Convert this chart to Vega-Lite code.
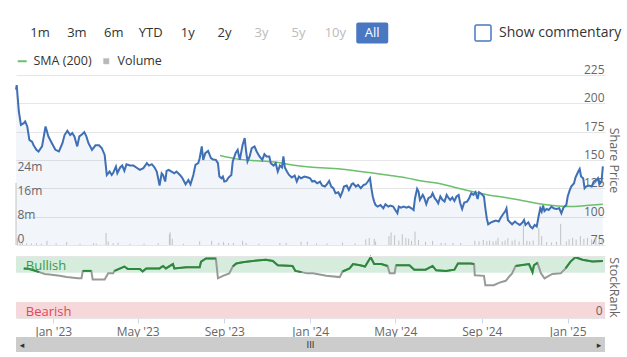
{
  "$schema": "https://vega.github.io/schema/vega-lite/v6.json",
  "padding": {"left": 12, "top": 0, "right": 0, "bottom": 0},
  "background": "white",
  "bounds": "flush",
  "spacing": 0,
  "config": {
    "font": "Open Sans",
    "view": {"stroke": null},
    "axis": {"labelColor": "#666666", "titleColor": "#666666", "labelFontSize": 12, "titleFontWeight": "normal", "titleFontSize": 12.5, "labelOverlap": false},
    "legend": {"labelFontSize": 12.5, "labelColor": "#333333", "padding": 0, "offset": 7, "labelOffset": 5}
  },
  "datasets": {
    "buttons": [
      {"b": "1m", "s": "on"}, {"b": "3m", "s": "on"}, {"b": "6m", "s": "on"}, {"b": "YTD", "s": "on"},
      {"b": "1y", "s": "on"}, {"b": "2y", "s": "on"}, {"b": "3y", "s": "off"}, {"b": "5y", "s": "off"},
      {"b": "10y", "s": "off"}, {"b": "All", "s": "sel"}
    ],
    "price": [
      {"d":"2022-11-09","p":212},{"d":"2022-11-10","p":216},{"d":"2022-11-13","p":193},{"d":"2022-11-16","p":181},
      {"d":"2022-11-20","p":182.5},{"d":"2022-11-22","p":184},{"d":"2022-11-25","p":179.6},{"d":"2022-11-28","p":167.8},
      {"d":"2022-12-02","p":166},{"d":"2022-12-04","p":163},{"d":"2022-12-08","p":159},{"d":"2022-12-11","p":157.5},
      {"d":"2022-12-16","p":162},{"d":"2022-12-21","p":179.6},{"d":"2022-12-25","p":170.8},{"d":"2022-12-30","p":164.8},
      {"d":"2023-01-04","p":159},{"d":"2023-01-09","p":157.5},{"d":"2023-01-14","p":164.8},{"d":"2023-01-17","p":172},
      {"d":"2023-01-21","p":175.7},{"d":"2023-01-25","p":172},{"d":"2023-01-28","p":173.7},{"d":"2023-01-31","p":170.8},
      {"d":"2023-02-04","p":162},{"d":"2023-02-07","p":170.8},{"d":"2023-02-11","p":172.8},{"d":"2023-02-14","p":174.6},
      {"d":"2023-02-17","p":170.8},{"d":"2023-02-20","p":164.8},{"d":"2023-02-25","p":159},{"d":"2023-03-02","p":163},
      {"d":"2023-03-07","p":163},{"d":"2023-03-11","p":160.4},{"d":"2023-03-15","p":154.5},{"d":"2023-03-18","p":136.8},
      {"d":"2023-03-22","p":139.8},{"d":"2023-03-25","p":136.8},{"d":"2023-03-27","p":138.5},{"d":"2023-03-31","p":144.3},
      {"d":"2023-04-02","p":138.3},{"d":"2023-04-06","p":143.4},{"d":"2023-04-09","p":145.1},{"d":"2023-04-12","p":140.4},
      {"d":"2023-04-15","p":146.3},{"d":"2023-04-20","p":145.1},{"d":"2023-04-25","p":145.1},{"d":"2023-04-29","p":143.4},
      {"d":"2023-05-04","p":141.3},{"d":"2023-05-09","p":142.8},{"d":"2023-05-14","p":147.2},{"d":"2023-05-17","p":145.1},
      {"d":"2023-05-21","p":146.3},{"d":"2023-05-25","p":143.4},{"d":"2023-05-28","p":139.8},{"d":"2023-05-30","p":133.9},
      {"d":"2023-06-01","p":127.5},{"d":"2023-06-04","p":138.3},{"d":"2023-06-06","p":136.8},{"d":"2023-06-09","p":131},
      {"d":"2023-06-11","p":140.4},{"d":"2023-06-14","p":141.3},{"d":"2023-06-18","p":139.8},{"d":"2023-06-22","p":138.3},
      {"d":"2023-06-25","p":139.8},{"d":"2023-06-30","p":136.8},{"d":"2023-07-03","p":134.5},{"d":"2023-07-08","p":128.6},
      {"d":"2023-07-12","p":132.4},{"d":"2023-07-15","p":128.6},{"d":"2023-07-19","p":136.8},{"d":"2023-07-22","p":145.7},
      {"d":"2023-07-26","p":147.2},{"d":"2023-07-28","p":151.6},{"d":"2023-07-31","p":162},{"d":"2023-08-02","p":150.1},
      {"d":"2023-08-05","p":156},{"d":"2023-08-09","p":158},{"d":"2023-08-13","p":151.6},{"d":"2023-08-16","p":150.5},
      {"d":"2023-08-20","p":150.1},{"d":"2023-08-23","p":147.2},{"d":"2023-08-25","p":135.4},{"d":"2023-08-28","p":133.9},
      {"d":"2023-08-30","p":135.4},{"d":"2023-09-01","p":131},{"d":"2023-09-04","p":131.5},{"d":"2023-09-07","p":134.5},
      {"d":"2023-09-11","p":136.8},{"d":"2023-09-13","p":148.7},{"d":"2023-09-17","p":156},{"d":"2023-09-20","p":159},
      {"d":"2023-09-23","p":150.1},{"d":"2023-09-27","p":163.3},{"d":"2023-09-30","p":169.3},{"d":"2023-10-02","p":157.5},
      {"d":"2023-10-04","p":148.7},{"d":"2023-10-07","p":153.1},{"d":"2023-10-10","p":160.4},{"d":"2023-10-14","p":161.9},
      {"d":"2023-10-17","p":157.5},{"d":"2023-10-21","p":153.1},{"d":"2023-10-25","p":150.1},{"d":"2023-10-28","p":155.1},
      {"d":"2023-10-31","p":153.1},{"d":"2023-11-04","p":153.1},{"d":"2023-11-06","p":147.2},{"d":"2023-11-10","p":145.1},
      {"d":"2023-11-13","p":147.2},{"d":"2023-11-16","p":139.8},{"d":"2023-11-19","p":145.1},{"d":"2023-11-22","p":143.4},
      {"d":"2023-11-24","p":153.1},{"d":"2023-11-26","p":143.4},{"d":"2023-11-29","p":139.8},{"d":"2023-12-02","p":136.8},
      {"d":"2023-12-06","p":134.5},{"d":"2023-12-10","p":136.3},{"d":"2023-12-13","p":131},{"d":"2023-12-16","p":135.4},
      {"d":"2023-12-19","p":133.9},{"d":"2023-12-24","p":135.4},{"d":"2023-12-29","p":134.5},{"d":"2024-01-01","p":133.9},
      {"d":"2024-01-04","p":131},{"d":"2024-01-07","p":131.5},{"d":"2024-01-11","p":129.5},{"d":"2024-01-15","p":131},
      {"d":"2024-01-18","p":127.5},{"d":"2024-01-22","p":126.6},{"d":"2024-01-25","p":128.6},{"d":"2024-01-28","p":131.5},
      {"d":"2024-01-31","p":126.6},{"d":"2024-02-03","p":125.1},{"d":"2024-02-06","p":120.7},{"d":"2024-02-10","p":121.6},
      {"d":"2024-02-13","p":117.8},{"d":"2024-02-16","p":122.2},{"d":"2024-02-18","p":126.6},{"d":"2024-02-22","p":127.5},
      {"d":"2024-02-25","p":123.6},{"d":"2024-02-29","p":128.6},{"d":"2024-03-02","p":129.5},{"d":"2024-03-06","p":126.6},
      {"d":"2024-03-09","p":128},{"d":"2024-03-13","p":125.1},{"d":"2024-03-17","p":128},{"d":"2024-03-20","p":128.6},
      {"d":"2024-03-23","p":131},{"d":"2024-03-26","p":133.9},{"d":"2024-03-28","p":125.1},{"d":"2024-03-30","p":117.8},
      {"d":"2024-04-01","p":113.3},{"d":"2024-04-03","p":110.3},{"d":"2024-04-06","p":108.9},{"d":"2024-04-10","p":110.3},
      {"d":"2024-04-14","p":107.4},{"d":"2024-04-17","p":111},{"d":"2024-04-21","p":108.9},{"d":"2024-04-24","p":109.8},
      {"d":"2024-04-28","p":108.9},{"d":"2024-05-01","p":105.9},{"d":"2024-05-04","p":103},{"d":"2024-05-06","p":108.9},
      {"d":"2024-05-09","p":108},{"d":"2024-05-13","p":108.9},{"d":"2024-05-17","p":108},{"d":"2024-05-20","p":108.9},
      {"d":"2024-05-24","p":107.4},{"d":"2024-05-27","p":105.9},{"d":"2024-05-29","p":116.3},{"d":"2024-06-01","p":124.5},
      {"d":"2024-06-03","p":122.2},{"d":"2024-06-05","p":114.8},{"d":"2024-06-09","p":119.2},{"d":"2024-06-11","p":116.9},
      {"d":"2024-06-14","p":111},{"d":"2024-06-17","p":116.3},{"d":"2024-06-21","p":117.8},{"d":"2024-06-23","p":120.7},
      {"d":"2024-06-26","p":116.3},{"d":"2024-06-29","p":113.9},{"d":"2024-07-01","p":111.8},{"d":"2024-07-04","p":117.8},
      {"d":"2024-07-07","p":114.8},{"d":"2024-07-10","p":113.3},{"d":"2024-07-13","p":119.2},{"d":"2024-07-16","p":116.3},
      {"d":"2024-07-18","p":114.8},{"d":"2024-07-21","p":116.9},{"d":"2024-07-24","p":113.9},{"d":"2024-07-27","p":117.8},
      {"d":"2024-07-30","p":119.2},{"d":"2024-08-01","p":112.5},{"d":"2024-08-04","p":106.8},{"d":"2024-08-07","p":112.5},
      {"d":"2024-08-11","p":113.3},{"d":"2024-08-14","p":116.3},{"d":"2024-08-17","p":120.7},{"d":"2024-08-20","p":119.2},
      {"d":"2024-08-23","p":121.6},{"d":"2024-08-26","p":115.6},{"d":"2024-08-28","p":121.6},{"d":"2024-09-01","p":119.8},
      {"d":"2024-09-04","p":117.8},{"d":"2024-09-06","p":107.4},{"d":"2024-09-08","p":98.6},{"d":"2024-09-10","p":93.3},
      {"d":"2024-09-14","p":95},{"d":"2024-09-17","p":95.7},{"d":"2024-09-21","p":96.6},{"d":"2024-09-25","p":95.7},
      {"d":"2024-09-28","p":99.2},{"d":"2024-10-02","p":103},{"d":"2024-10-04","p":104.5},{"d":"2024-10-06","p":107.4},
      {"d":"2024-10-08","p":97.1},{"d":"2024-10-11","p":95},{"d":"2024-10-14","p":93.3},{"d":"2024-10-18","p":95.7},
      {"d":"2024-10-21","p":94.2},{"d":"2024-10-25","p":92.7},{"d":"2024-10-29","p":95},{"d":"2024-10-31","p":97.1},
      {"d":"2024-11-02","p":92.7},{"d":"2024-11-06","p":95},{"d":"2024-11-09","p":91.3},{"d":"2024-11-12","p":89.8},
      {"d":"2024-11-15","p":92.7},{"d":"2024-11-18","p":91.3},{"d":"2024-11-21","p":101.5},{"d":"2024-11-23","p":107.4},
      {"d":"2024-11-25","p":104.5},{"d":"2024-11-27","p":109.8},{"d":"2024-11-29","p":105},{"d":"2024-12-02","p":106.8},
      {"d":"2024-12-05","p":105.9},{"d":"2024-12-09","p":108.9},{"d":"2024-12-12","p":107.4},{"d":"2024-12-16","p":106.8},
      {"d":"2024-12-20","p":107.4},{"d":"2024-12-23","p":103},{"d":"2024-12-26","p":108},{"d":"2024-12-30","p":110.3},
      {"d":"2025-01-01","p":117.8},{"d":"2025-01-04","p":123.6},{"d":"2025-01-06","p":126.6},{"d":"2025-01-10","p":129.5},
      {"d":"2025-01-12","p":134.5},{"d":"2025-01-16","p":139.8},{"d":"2025-01-18","p":142.1},{"d":"2025-01-20","p":135.4},
      {"d":"2025-01-23","p":133.9},{"d":"2025-01-25","p":125.1},{"d":"2025-01-27","p":126.6},{"d":"2025-01-31","p":127.5},
      {"d":"2025-02-04","p":126.6},{"d":"2025-02-07","p":131},{"d":"2025-02-11","p":132.4},{"d":"2025-02-13","p":133.9},
      {"d":"2025-02-15","p":128.6},{"d":"2025-02-18","p":131},{"d":"2025-02-20","p":144.3}
    ],
    "sma": [
      {"d":"2023-08-26","s":154},{"d":"2023-09-18","s":151},{"d":"2023-10-21","s":149.2},{"d":"2023-11-14","s":148},
      {"d":"2023-12-07","s":145.5},{"d":"2023-12-31","s":143.8},{"d":"2024-02-13","s":142.1},{"d":"2024-04-01","s":138.3},
      {"d":"2024-04-24","s":136.3},{"d":"2024-05-18","s":134},{"d":"2024-06-08","s":131.5},{"d":"2024-07-01","s":129.5},
      {"d":"2024-07-25","s":125.7},{"d":"2024-08-18","s":122.2},{"d":"2024-09-10","s":119.2},{"d":"2024-10-04","s":116.9},
      {"d":"2024-10-25","s":114.8},{"d":"2024-11-17","s":111.8},{"d":"2024-12-11","s":109.8},{"d":"2025-01-04","s":108.9},
      {"d":"2025-01-27","s":109.8},{"d":"2025-02-20","s":111}
    ],
    "vol": [
      {"d":"2022-11-09","v":20.8},{"d":"2022-11-11","v":2.4},{"d":"2022-11-15","v":1.1},{"d":"2022-11-18","v":0.8},
      {"d":"2022-11-24","v":0.6},{"d":"2022-12-01","v":0.5},{"d":"2022-12-08","v":0.6},{"d":"2022-12-15","v":0.4},
      {"d":"2022-12-23","v":1.4},{"d":"2023-01-05","v":0.5},{"d":"2023-01-20","v":1.0},{"d":"2023-02-08","v":0.4},
      {"d":"2023-02-27","v":0.6},{"d":"2023-03-03","v":0.5},{"d":"2023-03-17","v":4.0},{"d":"2023-03-20","v":1.2},
      {"d":"2023-03-27","v":0.6},{"d":"2023-04-03","v":0.8},{"d":"2023-04-20","v":0.4},{"d":"2023-05-10","v":0.4},
      {"d":"2023-05-30","v":0.6},{"d":"2023-06-15","v":3.6},{"d":"2023-06-16","v":4.3},{"d":"2023-06-19","v":2.1},
      {"d":"2023-07-05","v":0.4},{"d":"2023-07-28","v":1.2},{"d":"2023-08-14","v":1.4},{"d":"2023-08-24","v":0.7},
      {"d":"2023-08-31","v":1.0},{"d":"2023-09-07","v":0.6},{"d":"2023-09-14","v":0.7},{"d":"2023-09-27","v":1.4},
      {"d":"2023-10-02","v":0.7},{"d":"2023-10-20","v":0.4},{"d":"2023-11-19","v":0.7},{"d":"2023-11-28","v":0.7},
      {"d":"2023-12-19","v":1.1},{"d":"2023-12-28","v":1.1},{"d":"2024-01-10","v":0.5},{"d":"2024-01-25","v":0.5},
      {"d":"2024-02-16","v":0.8},{"d":"2024-03-05","v":0.5},{"d":"2024-03-20","v":1.9},{"d":"2024-03-25","v":2.4},
      {"d":"2024-04-01","v":2.1},{"d":"2024-04-03","v":1.2},{"d":"2024-04-22","v":3.0},{"d":"2024-04-25","v":4.2},
      {"d":"2024-04-30","v":3.3},{"d":"2024-05-06","v":1.5},{"d":"2024-05-11","v":3.6},{"d":"2024-05-16","v":2.4},
      {"d":"2024-05-20","v":2.1},{"d":"2024-05-24","v":1.4},{"d":"2024-05-29","v":4.5},{"d":"2024-06-03","v":1.7},
      {"d":"2024-06-13","v":1.1},{"d":"2024-06-23","v":1.4},{"d":"2024-07-05","v":0.7},{"d":"2024-07-11","v":0.7},
      {"d":"2024-07-22","v":0.7},{"d":"2024-08-02","v":0.7},{"d":"2024-08-22","v":1.4},{"d":"2024-08-28","v":1.2},
      {"d":"2024-09-03","v":1.7},{"d":"2024-09-08","v":1.3},{"d":"2024-09-12","v":1.5},{"d":"2024-09-17","v":1.2},
      {"d":"2024-09-21","v":1.4},{"d":"2024-09-24","v":2.4},{"d":"2024-09-30","v":1.2},{"d":"2024-10-04","v":1.5},
      {"d":"2024-10-08","v":2.3},{"d":"2024-10-14","v":1.4},{"d":"2024-10-18","v":1.8},{"d":"2024-10-24","v":1.2},
      {"d":"2024-10-30","v":6.8},{"d":"2024-11-04","v":1.4},{"d":"2024-11-08","v":1.2},{"d":"2024-11-13","v":1.5},
      {"d":"2024-11-21","v":5.6},{"d":"2024-11-25","v":3.0},{"d":"2024-12-02","v":1.0},{"d":"2024-12-09","v":0.8},
      {"d":"2024-12-16","v":1.1},{"d":"2024-12-22","v":7.1},{"d":"2024-12-30","v":1.2},{"d":"2025-01-03","v":1.9},
      {"d":"2025-01-08","v":2.4},{"d":"2025-01-13","v":1.8},{"d":"2025-01-19","v":3.0},{"d":"2025-01-24","v":2.1},
      {"d":"2025-01-29","v":2.4},{"d":"2025-02-04","v":1.9},{"d":"2025-02-10","v":2.6},{"d":"2025-02-15","v":2.0},
      {"d":"2025-02-19","v":1.8}
    ],
    "rank": [
      {"d":"2022-11-20","r":80},{"d":"2022-11-28","r":79},{"d":"2022-12-04","r":77},{"d":"2022-12-12","r":74},
      {"d":"2022-12-20","r":71},{"d":"2022-12-27","r":70},{"d":"2023-01-10","r":68},{"d":"2023-01-20","r":66},
      {"d":"2023-02-05","r":64},{"d":"2023-02-10","r":64},{"d":"2023-02-12","r":76},{"d":"2023-02-24","r":76},
      {"d":"2023-02-26","r":62},{"d":"2023-03-15","r":62},{"d":"2023-03-20","r":72},{"d":"2023-03-27","r":72},
      {"d":"2023-03-29","r":76},{"d":"2023-04-12","r":83},{"d":"2023-04-17","r":79},{"d":"2023-05-04","r":79},
      {"d":"2023-05-08","r":75},{"d":"2023-05-13","r":80},{"d":"2023-06-01","r":80},{"d":"2023-06-06","r":84},
      {"d":"2023-06-10","r":80},{"d":"2023-06-20","r":87},{"d":"2023-06-22","r":80},{"d":"2023-07-09","r":82},
      {"d":"2023-07-28","r":82},{"d":"2023-07-30","r":91},{"d":"2023-08-06","r":96},{"d":"2023-08-20","r":96},
      {"d":"2023-08-23","r":64},{"d":"2023-08-30","r":68},{"d":"2023-09-08","r":72},{"d":"2023-09-13","r":83},
      {"d":"2023-09-18","r":88},{"d":"2023-09-27","r":90},{"d":"2023-10-11","r":92},{"d":"2023-10-30","r":94},
      {"d":"2023-11-09","r":92},{"d":"2023-11-16","r":85},{"d":"2023-12-07","r":84},{"d":"2023-12-11","r":76},
      {"d":"2023-12-20","r":74},{"d":"2023-12-28","r":72},{"d":"2024-01-05","r":72},{"d":"2024-01-24","r":68},
      {"d":"2024-02-12","r":66},{"d":"2024-02-16","r":75},{"d":"2024-02-26","r":80},{"d":"2024-03-02","r":87},
      {"d":"2024-03-12","r":85},{"d":"2024-03-19","r":83},{"d":"2024-03-27","r":98},{"d":"2024-04-01","r":87},
      {"d":"2024-04-11","r":87},{"d":"2024-04-20","r":84},{"d":"2024-04-23","r":72},{"d":"2024-04-30","r":72},
      {"d":"2024-05-02","r":85},{"d":"2024-05-21","r":85},{"d":"2024-05-28","r":78},{"d":"2024-06-13","r":78},
      {"d":"2024-06-23","r":84},{"d":"2024-06-28","r":77},{"d":"2024-07-12","r":76},{"d":"2024-07-24","r":78},
      {"d":"2024-07-29","r":88},{"d":"2024-08-16","r":88},{"d":"2024-08-21","r":87},{"d":"2024-08-22","r":69},
      {"d":"2024-09-04","r":68},{"d":"2024-09-06","r":53},{"d":"2024-09-18","r":53},{"d":"2024-09-26","r":57},
      {"d":"2024-10-05","r":60},{"d":"2024-10-10","r":67},{"d":"2024-10-14","r":72},{"d":"2024-10-19","r":84},
      {"d":"2024-11-07","r":87},{"d":"2024-11-12","r":74},{"d":"2024-11-14","r":85},{"d":"2024-11-19","r":89},
      {"d":"2024-11-24","r":72},{"d":"2024-11-29","r":64},{"d":"2024-12-10","r":71},{"d":"2024-12-22","r":72},
      {"d":"2024-12-29","r":80},{"d":"2025-01-05","r":91},{"d":"2025-01-12","r":98},{"d":"2025-01-22","r":94},
      {"d":"2025-02-05","r":91},{"d":"2025-02-20","r":92}
    ],
    "bands": [
      {"band": "Bullish", "lo": 73, "hi": 100},
      {"band": "Bearish", "lo": 0, "hi": 26}
    ],
    "scroll": [
      {"k": "l", "t": "◂"}, {"k": "m", "t": "III"}, {"k": "r", "t": "▸"}
    ]
  },
  "vconcat": [
    {
      "width": 491,
      "height": 66,
      "layer": [
        {
          "data": {"name": "buttons"},
          "transform": [{"filter": "datum.s == 'sel'"}],
          "mark": {"type": "point", "filled": true, "color": "#4a77c2", "opacity": 1, "size": 1024,
                   "shape": "M-0.875,-0.66H0.875A0.125,0.125 0 0 1 1,-0.535V0.535A0.125,0.125 0 0 1 0.875,0.66H-0.875A0.125,0.125 0 0 1 -1,0.535V-0.535A0.125,0.125 0 0 1 -0.875,-0.66Z"},
          "encoding": {
            "x": {"field": "b", "type": "nominal", "scale": {"type": "point", "padding": 0.65, "domain": ["1m","3m","6m","YTD","1y","2y","3y","5y","10y","All","_a","_b","box"]}, "axis": null}
          }
        },
        {
          "data": {"name": "buttons"},
          "mark": {"type": "text", "fontSize": 13, "baseline": "middle"},
          "encoding": {
            "x": {"field": "b", "type": "nominal", "scale": {"type": "point", "padding": 0.65, "domain": ["1m","3m","6m","YTD","1y","2y","3y","5y","10y","All","_a","_b","box"]}, "axis": null},
            "text": {"field": "b"},
            "color": {"field": "s", "type": "nominal", "scale": {"domain": ["on","off","sel"], "range": ["#333333","#bbbbbb","#ffffff"]}, "legend": null}
          }
        },
        {
          "data": {"values": [{"b": "box", "t": "Show commentary"}]},
          "mark": {"type": "point", "filled": false, "stroke": "#4a77c2", "strokeWidth": 1.5, "opacity": 1, "size": 256,
                   "shape": "M-0.8,-1H0.8A0.2,0.2 0 0 1 1,-0.8V0.8A0.2,0.2 0 0 1 0.8,1H-0.8A0.2,0.2 0 0 1 -1,0.8V-0.8A0.2,0.2 0 0 1 -0.8,-1Z"},
          "encoding": {
            "x": {"field": "b", "type": "nominal", "scale": {"type": "point", "padding": 0.65, "domain": ["1m","3m","6m","YTD","1y","2y","3y","5y","10y","All","_a","_b","box"]}, "axis": null}
          }
        },
        {
          "data": {"values": [{"b": "box", "t": "Show commentary"}]},
          "mark": {"type": "text", "fontSize": 14, "align": "left", "baseline": "middle", "dx": 16, "color": "#333333"},
          "encoding": {
            "x": {"field": "b", "type": "nominal", "scale": {"type": "point", "padding": 0.65, "domain": ["1m","3m","6m","YTD","1y","2y","3y","5y","10y","All","_a","_b","box"]}, "axis": null},
            "text": {"field": "t"}
          }
        }
      ]
    },
    {"width": 589, "height": 9, "data": {"values": [{}]}, "mark": {"type": "text"}, "encoding": {}},
    {
      "width": 589,
      "height": 170,
      "layer": [
        {
          "data": {"name": "price"},
          "mark": {"type": "area", "color": "#4472b7", "opacity": 0.07},
          "encoding": {
            "x": {"field": "d", "type": "temporal", "scale": {"domain": [{"year": 2022, "month": 11, "date": 9}, {"year": 2025, "month": 2, "date": 23}]}, "axis": null},
            "y": {"field": "p", "type": "quantitative", "scale": {"domain": [75, 225], "zero": false, "nice": false},
                  "axis": {"orient": "right", "values": [75, 100, 125, 150, 175, 200, 225], "title": "Share Price", "grid": true, "gridColor": "#e6e6e6",
                           "domain": false, "ticks": false, "tickSize": 0, "labelAlign": "right", "labelBaseline": "alphabetic",
                           "labelPadding": -1, "labelOffset": -1.5, "labelFlush": false, "titlePadding": 1}},
            "y2": {"datum": 75}
          }
        },
        {
          "data": {"name": "sma"},
          "transform": [{"calculate": "'SMA (200)'", "as": "series"}],
          "mark": {"type": "line", "strokeWidth": 1.5, "interpolate": "monotone"},
          "encoding": {
            "x": {"field": "d", "type": "temporal", "scale": {"domain": [{"year": 2022, "month": 11, "date": 9}, {"year": 2025, "month": 2, "date": 23}]}, "axis": null},
            "y": {"field": "s", "type": "quantitative", "scale": {"domain": [75, 225], "zero": false, "nice": false}, "axis": null},
            "color": {"field": "series", "type": "nominal", "scale": {"domain": ["SMA (200)"], "range": ["#6cbf6c"]},
                      "legend": {"title": null, "orient": "top", "direction": "horizontal", "symbolType": "stroke", "symbolSize": 81, "symbolStrokeWidth": 2}}
          }
        },
        {
          "data": {"name": "vol"},
          "transform": [{"calculate": "'Volume'", "as": "series"}],
          "mark": {"type": "rule", "strokeWidth": 1},
          "encoding": {
            "x": {"field": "d", "type": "temporal", "scale": {"domain": [{"year": 2022, "month": 11, "date": 9}, {"year": 2025, "month": 2, "date": 23}]}, "axis": null},
            "y": {"field": "v", "type": "quantitative", "scale": {"domain": [0, 57], "nice": false},
                  "axis": {"orient": "left", "values": [0, 8, 16, 24], "title": null, "grid": false, "domain": false, "ticks": false, "tickSize": 0,
                           "labelAlign": "left", "labelBaseline": "alphabetic", "labelPadding": -1, "labelOffset": -3, "labelFlush": false,
                           "labelExpr": "datum.value == 0 ? '0' : datum.value + 'm'"}},
            "y2": {"datum": 0},
            "color": {"field": "series", "type": "nominal", "scale": {"domain": ["Volume"], "range": ["#c2c2c2"]},
                      "legend": {"title": null, "orient": "top", "direction": "horizontal", "symbolType": "square", "symbolSize": 30,
                                 "symbolFillColor": "#b8b8b8", "symbolStrokeColor": "#b8b8b8", "symbolStrokeWidth": 0.5}}
          }
        },
        {
          "data": {"name": "price"},
          "mark": {"type": "line", "color": "#3f6fb5", "strokeWidth": 2},
          "encoding": {
            "x": {"field": "d", "type": "temporal", "scale": {"domain": [{"year": 2022, "month": 11, "date": 9}, {"year": 2025, "month": 2, "date": 23}]}, "axis": null},
            "y": {"field": "p", "type": "quantitative", "scale": {"domain": [75, 225], "zero": false, "nice": false}, "axis": null}
          }
        }
      ],
      "resolve": {"scale": {"y": "independent", "color": "independent"}, "legend": {"color": "independent"}}
    },
    {"width": 589, "height": 11, "data": {"values": [{}]}, "mark": {"type": "text"}, "encoding": {}},
    {
      "width": 589,
      "height": 62,
      "layer": [
        {
          "data": {"name": "bands"},
          "mark": {"type": "rect"},
          "encoding": {
            "y": {"field": "lo", "type": "quantitative", "scale": {"domain": [0, 100], "nice": false},
                  "axis": {"orient": "right", "values": [0, 100], "title": "StockRank", "grid": true, "gridColor": "#e6e6e6", "domain": false,
                           "ticks": false, "tickSize": 0, "labelAlign": "right", "labelBaseline": "alphabetic", "labelPadding": -3, "labelOffset": -4,
                           "labelFlush": false, "labelExpr": "datum.value == 0 ? '0' : ''", "titlePadding": 1, "zindex": 1}},
            "y2": {"field": "hi"},
            "fill": {"field": "band", "type": "nominal", "scale": {"domain": ["Bullish", "Bearish"], "range": ["#d6ecdc", "#f6d7da"]}, "legend": null}
          }
        },
        {
          "data": {"name": "rank"},
          "mark": {"type": "line", "color": "#999999", "strokeWidth": 2},
          "encoding": {
            "x": {"field": "d", "type": "temporal", "scale": {"domain": [{"year": 2022, "month": 11, "date": 9}, {"year": 2025, "month": 2, "date": 23}]},
                  "axis": {"values": [{"year": 2023, "month": 1, "date": 1}, {"year": 2023, "month": 5, "date": 1}, {"year": 2023, "month": 9, "date": 1},
                                      {"year": 2024, "month": 1, "date": 1}, {"year": 2024, "month": 5, "date": 1}, {"year": 2024, "month": 9, "date": 1},
                                      {"year": 2025, "month": 1, "date": 1}],
                           "format": "%b '%y", "title": null, "domain": false, "grid": false, "ticks": true, "tickSize": 5, "tickColor": "#ccd6eb",
                           "labelPadding": 3, "labelFlush": false}},
            "y": {"field": "r", "type": "quantitative"}
          }
        },
        {
          "data": {"name": "rank"},
          "transform": [
            {"calculate": "datum.r >= 73 ? 1 : 0", "as": "bull"},
            {"window": [{"op": "lag", "field": "bull", "as": "pb"}], "sort": [{"field": "d"}]},
            {"calculate": "datum.pb == null || datum.pb != datum.bull ? 1 : 0", "as": "chg"},
            {"window": [{"op": "sum", "field": "chg", "as": "seg"}], "sort": [{"field": "d"}], "frame": [null, 0]},
            {"filter": "datum.bull == 1"}
          ],
          "mark": {"type": "line", "color": "#2a8a3c", "strokeWidth": 2},
          "encoding": {
            "x": {"field": "d", "type": "temporal", "scale": {"domain": [{"year": 2022, "month": 11, "date": 9}, {"year": 2025, "month": 2, "date": 23}]}},
            "y": {"field": "r", "type": "quantitative"},
            "detail": {"field": "seg", "type": "nominal"}
          }
        },
        {
          "data": {"name": "bands"},
          "transform": [{"filter": "datum.band == 'Bullish'"}, {"calculate": "(datum.lo + datum.hi) / 2", "as": "mid"}],
          "mark": {"type": "text", "align": "left", "baseline": "middle", "fontSize": 13, "dy": 2, "color": "#3a9a4a"},
          "encoding": {
            "x": {"datum": {"year": 2022, "month": 11, "date": 23}, "type": "temporal", "scale": {"domain": [{"year": 2022, "month": 11, "date": 9}, {"year": 2025, "month": 2, "date": 23}]}},
            "y": {"field": "mid", "type": "quantitative"},
            "text": {"field": "band"}
          }
        },
        {
          "data": {"name": "bands"},
          "transform": [{"filter": "datum.band == 'Bearish'"}, {"calculate": "(datum.lo + datum.hi) / 2", "as": "mid"}],
          "mark": {"type": "text", "align": "left", "baseline": "middle", "fontSize": 13, "dy": 2, "color": "#dd4a5a"},
          "encoding": {
            "x": {"datum": {"year": 2022, "month": 11, "date": 23}, "type": "temporal", "scale": {"domain": [{"year": 2022, "month": 11, "date": 9}, {"year": 2025, "month": 2, "date": 23}]}},
            "y": {"field": "mid", "type": "quantitative"},
            "text": {"field": "band"}
          }
        }
      ]
    },
    {"width": 589, "height": 19, "data": {"values": [{}]}, "mark": {"type": "text"}, "encoding": {}},
    {
      "width": 589,
      "height": 15,
      "view": {"fill": "#cccccc", "stroke": null},
      "data": {"name": "scroll"},
      "mark": {"type": "text", "fontSize": 9, "color": "#333333", "font": "DejaVu Sans", "baseline": "middle"},
      "encoding": {
        "x": {"field": "k", "type": "nominal", "scale": {"type": "point", "padding": 0.021, "domain": ["l", "m", "r"]}, "axis": null},
        "text": {"field": "t"}
      }
    }
  ]
}
